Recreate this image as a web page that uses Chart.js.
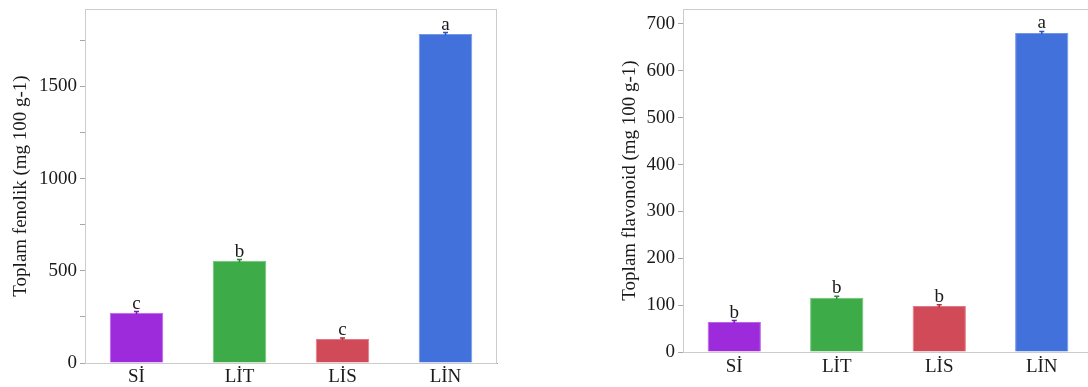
<!DOCTYPE html>
<html>
<head>
<meta charset="utf-8">
<script src="https://cdn.jsdelivr.net/npm/chart.js@4.4.1/dist/chart.umd.min.js"></script>
<style>
  html, body { margin: 0; padding: 0; background: #fff; overflow: hidden; }
  body { width: 1088px; height: 387px; position: relative; }
  .box { position: absolute; top: 0; height: 387px; }
  #leftBox  { left: 0;     width: 540px; }
  #rightBox { left: 544px; width: 560px; }
</style>
</head>
<body>
<div class="box" id="leftBox"><canvas id="fenolikChart"></canvas></div>
<div class="box" id="rightBox"><canvas id="flavonoidChart"></canvas></div>
<script>
// ---- Data ----
const categories = ["Sİ", "LİT", "LİS", "LİN"];

const fenolik        = [272, 554, 130, 1785];
const fenolikErr     = [7, 7, 5, 7];
const fenolikLetters = ["c", "b", "c", "a"];
const fenolikMax     = 1920;

const flavonoid        = [64, 116, 98, 681];
const flavonoidErr     = [3, 3, 3, 3];
const flavonoidLetters = ["b", "b", "b", "a"];
const flavonoidMax     = 732;

const barColors = ["#9e2bdb", "#3dab48", "#d14a57", "#4271dc"];
const barEdges  = ["#b865e6", "#6cc375", "#de7a83", "#7396e6"];
const errColors = ["#7a1fb0", "#2a8a35", "#a8353f", "#2f56b5"];

Chart.defaults.font.family = "'Liberation Serif', 'Times New Roman', serif";
Chart.defaults.font.size = 19;
Chart.defaults.color = "#222";

// frame round the plot area + error bars + letters
const framePlugin = {
    id: "frame",
    beforeDatasetsDraw(chart) {
        const { ctx, chartArea: a } = chart;
        ctx.save();
        ctx.strokeStyle = "#cccccc";
        ctx.lineWidth = 1;
        ctx.strokeRect(a.left + 0.5, a.top + 0.5, a.right - a.left - 1, a.bottom - a.top);
        ctx.restore();
    },
    afterDatasetsDraw(chart, args, opts) {
        const { ctx, scales: { y } } = chart;
        const meta = chart.getDatasetMeta(0);
        const vals = chart.data.datasets[0].data;
        ctx.save();
        meta.data.forEach((bar, i) => {
            const x = bar.x;
            const hi = y.getPixelForValue(vals[i] + opts.err[i]);
            const lo = y.getPixelForValue(vals[i] - opts.err[i]);
            ctx.strokeStyle = errColors[i];
            ctx.lineWidth = 1.5;
            ctx.beginPath();
            ctx.moveTo(x, lo); ctx.lineTo(x, hi);
            ctx.moveTo(x - 2.5, hi); ctx.lineTo(x + 2.5, hi);
            ctx.stroke();
            ctx.fillStyle = "#1a1a1a";
            ctx.font = "19px 'Liberation Serif', 'Times New Roman', serif";
            ctx.textAlign = "center";
            ctx.textBaseline = "alphabetic";
            ctx.fillText(opts.letters[i], x, hi - 3);
        });
        ctx.restore();
    },
};

function makeChart(id, values, err, letters, max, step, majorStep, title, cfg) {
    return new Chart(document.getElementById(id), {
        type: "bar",
        data: {
            labels: categories,
            datasets: [{
                data: values,
                backgroundColor: barColors,
                borderColor: barEdges,
                borderWidth: 1,
                barPercentage: 0.52,
                categoryPercentage: 1,
            }],
        },
        options: {
            responsive: true,
            maintainAspectRatio: false,
            animation: false,
            layout: { padding: { top: 9, left: cfg.padLeft, right: cfg.padRight, bottom: 0 } },
            plugins: {
                legend: { display: false },
                tooltip: { enabled: false },
                frame: { err: err, letters: letters },
            },
            scales: {
                x: {
                    grid: { display: false, drawTicks: false },
                    border: { color: "#9a9a9a", width: 1 },
                    ticks: { color: "#1a1a1a", padding: cfg.xPad, maxRotation: 0 },
                    afterFit(s) {
                        s.height = cfg.xHeight;
                        s.paddingLeft = 0; s.paddingRight = 0;
                    },
                },
                y: {
                    min: 0,
                    max: max,
                    grid: { drawOnChartArea: false, tickLength: 5, color: "#a8a8a8" },
                    border: { color: "#bdbdbd", width: 1 },
                    ticks: {
                        stepSize: step,
                        includeBounds: false,
                        padding: 3,
                        color: "#1a1a1a",
                        callback: v => (v % majorStep === 0 ? v : ""),
                    },
                    title: {
                        display: true,
                        text: title,
                        color: "#1a1a1a",
                        font: { size: 19 },
                        padding: { top: cfg.titlePad, bottom: 0 },
                    },
                    afterFit(s) {
                        s.width = cfg.yWidth;
                        s.paddingTop = 0; s.paddingBottom = 0;
                    },
                },
            },
        },
        plugins: [framePlugin],
    });
}

makeChart("fenolikChart", fenolik, fenolikErr, fenolikLetters, fenolikMax, 250, 500,
    "Toplam fenolik (mg 100 g-1)",
    { padLeft: 0, padRight: 43, yWidth: 85, xHeight: 24, xPad: 3, titlePad: 10 });

makeChart("flavonoidChart", flavonoid, flavonoidErr, flavonoidLetters, flavonoidMax, 100, 100,
    "Toplam flavonoid (mg 100 g-1)",
    { padLeft: 60, padRight: 11, yWidth: 79, xHeight: 35, xPad: 4, titlePad: 15 });
</script>
</body>
</html>
